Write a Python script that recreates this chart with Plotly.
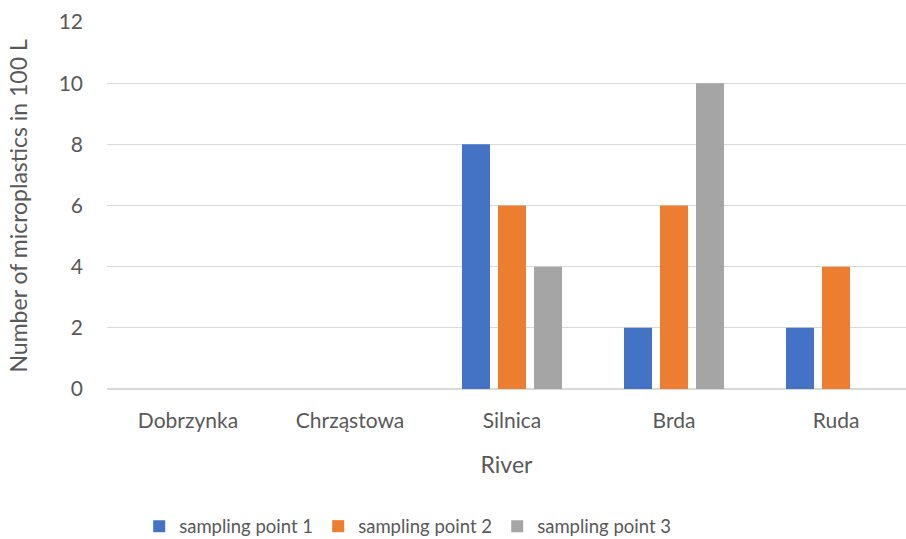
import plotly.graph_objects as go

# Rivers sampled and microplastic counts per 100 L at each sampling point
rivers = ["Dobrzynka", "Chrząstowa", "Silnica", "Brda", "Ruda"]
point_1 = [0, 0, 8, 2, 2]
point_2 = [0, 0, 6, 6, 4]
point_3 = [0, 0, 4, 10, 0]
series_names = ["sampling point 1", "sampling point 2", "sampling point 3"]
series_colors = ["#4472C4", "#ED7D31", "#A5A5A5"]
y_ticks = [0, 2, 4, 6, 8, 10, 12]

FONT = "Lato"
TEXT = "#595959"
GRID = "#D9D9D9"

fig = go.Figure()
for name, vals, col in zip(series_names, [point_1, point_2, point_3], series_colors):
    fig.add_trace(go.Bar(x=rivers, y=vals, name=name, marker=dict(color=col, line=dict(width=0))))

fig.update_layout(
    width=906, height=539,
    margin=dict(l=107, r=0, t=22, b=150, autoexpand=False),
    paper_bgcolor="white", plot_bgcolor="white",
    barmode="group", bargap=0.333, bargroupgap=0.222,
    font=dict(family=FONT, color=TEXT, size=21),
    showlegend=True,
    legend=dict(
        orientation="h", x=0.45, xanchor="center", xref="container",
        y=-0.375, yanchor="middle", font=dict(size=18.5, color=TEXT),
        entrywidth=134, entrywidthmode="pixels", traceorder="normal",
        itemclick=False, itemdoubleclick=False,
    ),
    # vertical axis title, placed left of the tick labels
    annotations=[dict(
        text="Number of microplastics in 100 L", textangle=-90,
        xref="paper", yref="paper", x=-0.1114, y=0.5,
        xanchor="center", yanchor="middle", showarrow=False,
        font=dict(size=23, color=TEXT),
    )],
)

fig.update_xaxes(
    range=[-0.5, 4.432], showgrid=False, showline=False, ticks="",
    tickfont=dict(size=21, color=TEXT), ticklabelstandoff=17,
    title=dict(text="River", font=dict(size=23, color=TEXT), standoff=25),
)
fig.update_yaxes(
    range=[0, 12], tickvals=y_ticks, showgrid=True, gridcolor=GRID, gridwidth=1,
    zeroline=True, zerolinecolor=GRID, zerolinewidth=1.5, showline=False, ticks="",
    tickfont=dict(size=21, color=TEXT), ticklabelstandoff=23,
)

fig.write_html("out.html")
